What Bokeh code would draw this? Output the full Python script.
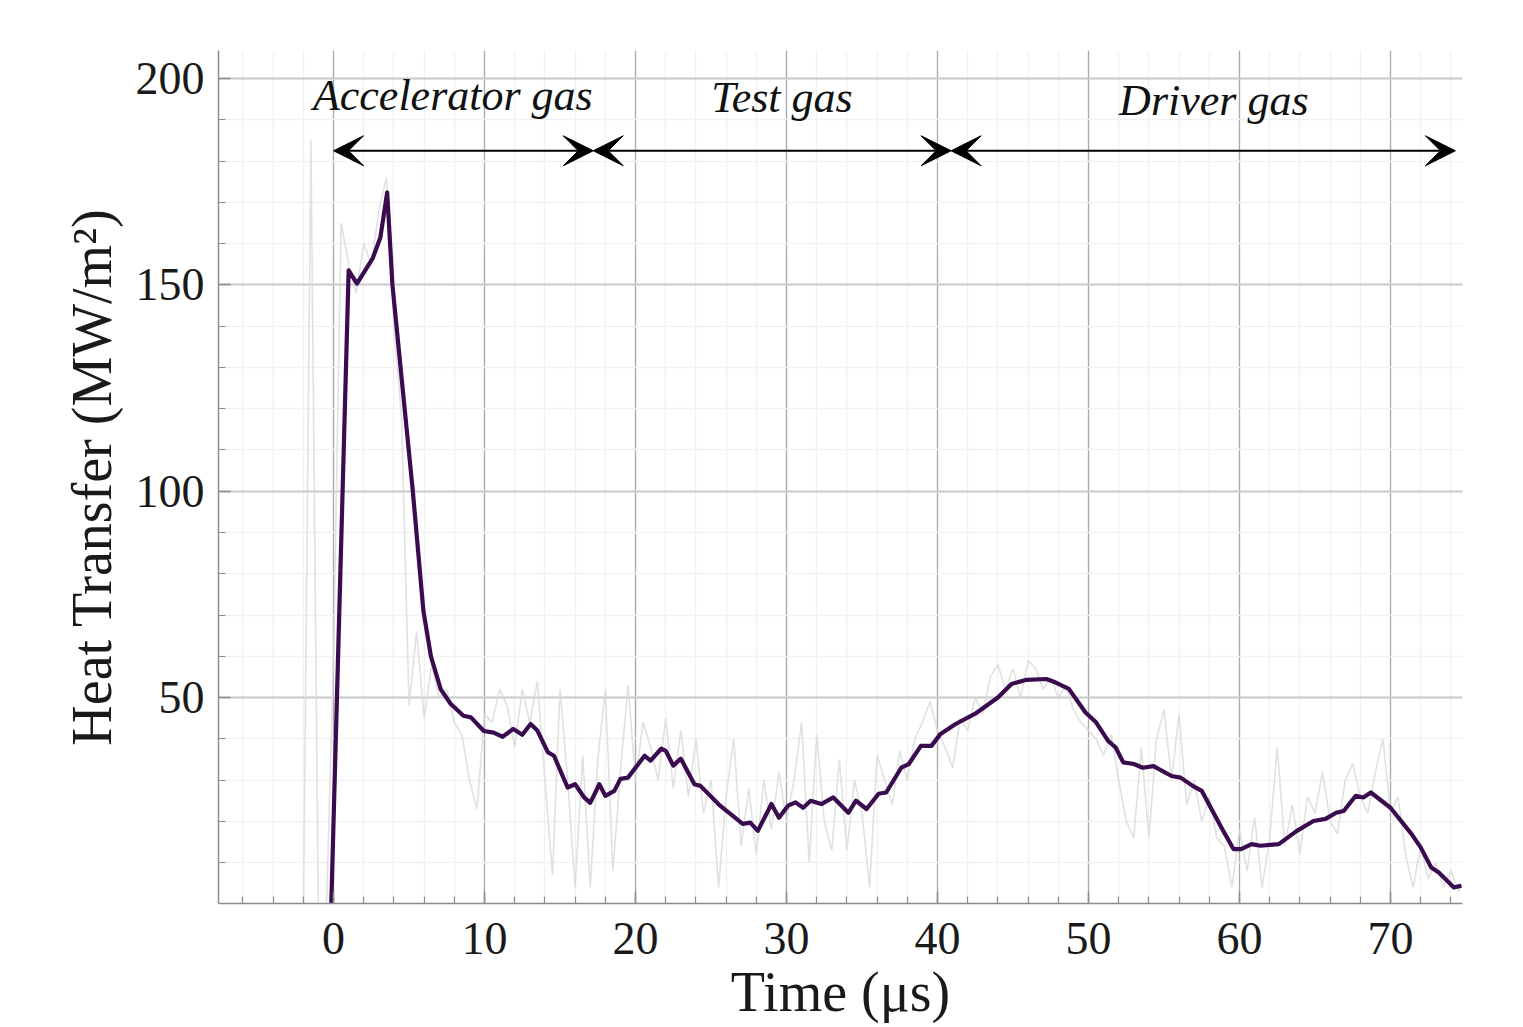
import numpy as np
from bokeh.plotting import figure
from bokeh.models import (Arrow, VeeHead, SingleIntervalTicker, Range1d,
                          ColumnDataSource)
from bokeh.core.properties import value
from bokeh.embed import file_html
from bokeh.resources import INLINE

# ---------------- data ----------------
# smoothed heat transfer trace (time in microseconds, MW/m^2)
smooth_t = [-0.15, 1.0, 1.55, 2.6, 3.1, 3.55, 3.9, 4.6, 5.25, 5.95, 6.45, 7.1, 7.75,
            8.6, 9.1, 9.95, 10.6, 11.2, 11.9, 12.5, 13.05, 13.5, 14.2, 14.6, 15.5,
            16.0, 16.6, 17.0, 17.6, 18.0, 18.6, 19.0, 19.5, 20.6, 21.0, 21.7, 22.0,
            22.5, 23.0, 23.9, 24.3, 25.6, 27.1, 27.6, 28.1, 29.0, 29.5, 30.1, 30.6,
            31.1, 31.6, 32.3, 33.1, 34.1, 34.6, 35.3, 36.1, 36.6, 37.6, 38.1, 38.9,
            39.6, 40.2, 41.2, 42.5, 44.0, 44.9, 45.9, 47.2, 47.8, 48.7, 49.8, 50.5,
            51.3, 51.8, 52.3, 53.0, 53.6, 54.3, 55.5, 56.1, 56.9, 57.5, 58.8, 59.6,
            60.1, 60.8, 61.4, 62.6, 63.8, 64.9, 65.7, 66.4, 66.9, 67.7, 68.2, 68.7,
            70.0, 71.4, 72.0, 72.7, 73.2, 74.2, 74.7]
smooth_q = [0.0, 153.5, 150.3, 156.5, 161.5, 172.4, 150.0, 124.0, 100.0, 71.0, 60.0,
            52.0, 48.5, 45.6, 45.2, 41.9, 41.5, 40.5, 42.4, 41.0, 43.6, 42.0, 36.7,
            35.9, 28.2, 29.0, 25.8, 24.5, 29.0, 26.2, 27.4, 30.3, 30.6, 35.9, 34.7,
            37.6, 37.1, 33.5, 35.2, 29.0, 28.6, 23.8, 19.4, 19.7, 17.7, 24.2, 20.9,
            23.8, 24.6, 23.3, 25.0, 24.2, 25.8, 22.1, 25.0, 23.0, 26.7, 27.0, 33.0,
            33.9, 38.3, 38.3, 41.2, 43.6, 46.1, 50.0, 53.3, 54.3, 54.5, 53.7, 52.1,
            46.4, 44.0, 39.5, 37.9, 34.3, 33.9, 33.0, 33.4, 31.0, 30.6, 28.6, 27.4,
            18.5, 13.3, 13.3, 14.5, 14.1, 14.5, 17.7, 20.1, 20.6, 22.1, 22.5, 26.2,
            25.8, 27.0, 23.3, 16.9, 13.7, 8.8, 7.6, 4.0, 4.4]

# raw (unfiltered) trace, sampled every 0.5 microseconds from -2 to 75
raw_t = np.arange(-2.0, 75.01, 0.5)
raw_q = [-5, 185, -5, -5, 60, 165, 155, 148, 160, 155,
         168, 176, 140, 118, 48, 66, 45, 58, 50, 52,
         44, 41, 30, 23, 46, 44, 52, 48, 38, 52,
         44, 54, 30, 7, 52, 30, 4, 36, 4, 35,
         52, 8, 32, 53, 30, 44, 38, 30, 45, 28,
         42, 26, 40, 22, 30, 4, 26, 40, 14, 28,
         12, 30, 18, 32, 20, 30, 44, 10, 41, 20,
         13, 35, 13, 30, 22, 4, 36, 30, 24, 37,
         30, 40, 44, 49, 42, 38, 33, 45, 42, 50,
         46, 55, 58, 52, 57, 50, 59, 57, 52, 55,
         50, 53, 47, 44, 42, 40, 36, 41, 30, 20,
         16, 38, 16, 40, 47, 30, 46, 24, 30, 20,
         26, 16, 14, 4, 18, 8, 21, 4, 16, 38,
         14, 24, 12, 26, 22, 32, 20, 17, 30, 34,
         26, 22, 32, 40, 22, 26, 12, 4, 14, 6,
         10, 4, 8, 3, 6]

# gas phases
phase_bounds = [0.0, 17.2, 40.9, 74.3]
phase_labels = ["Accelerator gas", "Test gas", "Driver gas"]
phase_label_t = [7.9, 29.7, 58.3]
phase_label_q = [196.0, 195.4, 194.7]
arrow_q = 182.5

# ---------------- figure ----------------
W, H = 1523, 1027
p = figure(width=W, height=H, output_backend="svg", toolbar_location=None,
           x_range=Range1d(-7.62, 74.77), y_range=Range1d(0.1, 206.8),
           min_border_left=218, min_border_right=61, min_border_top=50,
           min_border_bottom=124, background_fill_color="white",
           border_fill_color="white")
p.outline_line_color = None

FONT = "Liberation Serif"

p.line(raw_t, raw_q, line_color="#d9d9d9", line_width=1.6, line_alpha=0.8)
p.line(smooth_t, smooth_q, line_color="#3b0b50", line_width=4.2, line_join="round")

# arrows
arr_src = ColumnDataSource(dict(x0=phase_bounds[:-1], x1=phase_bounds[1:],
                                y=[arrow_q] * (len(phase_bounds) - 1)))
p.add_layout(Arrow(source=arr_src, x_start="x0", x_end="x1", y_start="y", y_end="y",
                   line_color="black", line_width=2,
                   start=VeeHead(size=30, fill_color="black", line_color="black", line_width=1),
                   end=VeeHead(size=30, fill_color="black", line_color="black", line_width=1)))

lab_src = ColumnDataSource(dict(x=phase_label_t, y=phase_label_q, t=phase_labels))
p.text(x="x", y="y", text="t", source=lab_src, text_font=value(FONT),
       text_font_style="italic", text_font_size="44px", text_align="center",
       text_baseline="middle", text_color="#111111")

# axes
p.xaxis.ticker = SingleIntervalTicker(interval=10, num_minor_ticks=5)
p.yaxis.ticker = SingleIntervalTicker(interval=50, num_minor_ticks=5)
p.xaxis.axis_label = "Time (μs)"
p.yaxis.axis_label = "Heat Transfer (MW/m²)"
for ax in (p.xaxis, p.yaxis):
    ax.axis_label_text_font = FONT
    ax.axis_label_text_font_style = "normal"
    ax.axis_label_text_font_size = "56px"
    ax.axis_label_text_color = "#1a1a1a"
    ax.major_label_text_font = FONT
    ax.major_label_text_font_size = "46px"
    ax.major_label_text_color = "#1a1a1a"
    ax.axis_line_color = "#8c8c8c"
    ax.axis_line_width = 1.5
    ax.major_tick_line_color = "#8c8c8c"
    ax.minor_tick_line_color = "#8c8c8c"
    ax.major_tick_in = 12
    ax.major_tick_out = 0
    ax.minor_tick_in = 7
    ax.minor_tick_out = 0
    ax.major_tick_line_width = 1.5
    ax.minor_tick_line_width = 1.2
p.xaxis.major_label_standoff = 19
p.xaxis.axis_label_standoff = 4
p.yaxis.major_label_standoff = 14
p.yaxis.axis_label_standoff = 10

p.xgrid.grid_line_color = "#a9a9a9"
p.xgrid.grid_line_width = 1.3
p.ygrid.grid_line_color = "#c9c9c9"
p.ygrid.grid_line_width = 1.8
p.xgrid.minor_grid_line_color = "#f1f1f1"
p.ygrid.minor_grid_line_color = "#f1f1f1"
p.xgrid.minor_grid_line_width = 1.3
p.ygrid.minor_grid_line_width = 1.3

open("out.html", "w").write(file_html(p, INLINE))
